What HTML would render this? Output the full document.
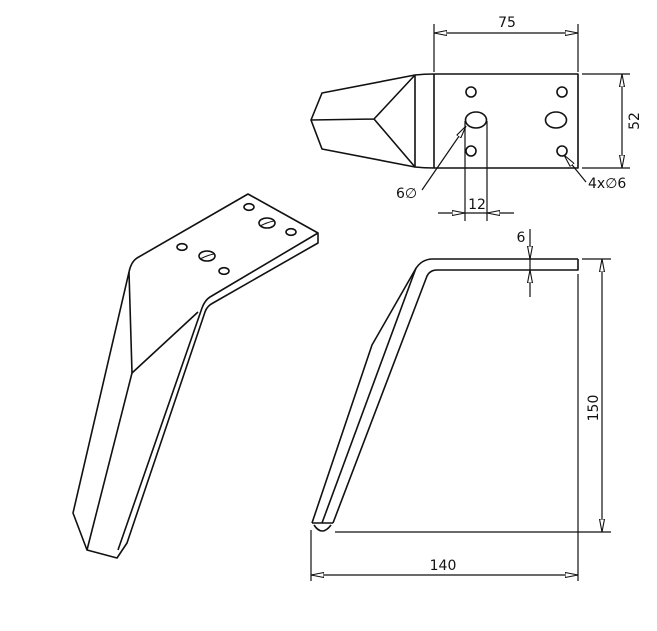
<!DOCTYPE html>
<html><head><meta charset="utf-8"><style>
html,body{margin:0;padding:0;background:#fff;}
svg{display:block;}
text{font-family:"DejaVu Sans","Liberation Sans",sans-serif;font-size:14px;fill:#111;}
</style></head><body>
<svg width="657" height="631" viewBox="0 0 657 631" xmlns="http://www.w3.org/2000/svg">
<defs>
<marker id="ar" viewBox="0 0 13 6" refX="13" refY="3" markerWidth="13" markerHeight="6" orient="auto-start-reverse" markerUnits="userSpaceOnUse">
<path d="M0,0.5 L13,3 L0,5.5 Z" fill="#fff" stroke="#111" stroke-width="1.1"/>
</marker>
</defs>
<g fill="none" stroke="#111" stroke-width="1.6" stroke-linejoin="round">
<!-- ISO VIEW -->
<path d="M248,194 L318,233 L318,243 L213,303 Q207,306 205,312 L127,543 L117,558 L87,550 L73,513 L129,272 Q131,262 137,258 Z"/>
<path d="M318,233 L210,297 Q205,300 202,308 L118,550"/>
<path d="M129,272 L132,373 L198,312"/>
<path d="M132,373 L87,550"/>
<ellipse cx="249" cy="207" rx="5" ry="3.3"/>
<ellipse cx="267" cy="223" rx="8" ry="5"/>
<path d="M260,226 Q268,222 274,221" stroke-width="1"/>
<ellipse cx="291" cy="232" rx="5" ry="3.3"/>
<ellipse cx="182" cy="247" rx="5" ry="3.3"/>
<ellipse cx="207" cy="256" rx="8" ry="5"/>
<path d="M200,259 Q208,255 214,254" stroke-width="1"/>
<ellipse cx="224" cy="271" rx="5" ry="3.3"/>

<!-- TOP VIEW -->
<path d="M415,75 Q424,74 434,74 L578,74 L578,168 L434,168 Q424,168 415,167 Z"/>
<line x1="434" y1="74" x2="434" y2="168"/>
<path d="M415,75 L322,93 L311,120 L322,149 L415,167"/>
<path d="M311,120 L374,119 L415,75 M374,119 L415,167"/>
<circle cx="471" cy="92" r="5"/>
<circle cx="471" cy="151" r="5"/>
<circle cx="562" cy="92" r="5"/>
<circle cx="562" cy="151" r="5"/>
<ellipse cx="476" cy="120" rx="10.5" ry="8"/>
<ellipse cx="556" cy="120" rx="10.5" ry="8"/>

<!-- SIDE VIEW -->
<path d="M578,259 L433,259 Q421,259 415,270 L372,345 L312,523"/>
<path d="M578,259 L578,270 L437,270 Q430,270 427,276 L333,523"/>
<path d="M416,268 L322,523"/>
<path d="M312,523 L333,523 M314,525 Q322,537 331,525"/>
</g>

<!-- dimensions -->
<g fill="none" stroke="#111" stroke-width="1.2">
<line x1="434" y1="24" x2="434" y2="72"/>
<line x1="578" y1="24" x2="578" y2="72"/>
<line x1="434" y1="33" x2="578" y2="33" marker-start="url(#ar)" marker-end="url(#ar)"/>
<line x1="582" y1="74" x2="630" y2="74"/>
<line x1="582" y1="168" x2="630" y2="168"/>
<line x1="622" y1="74" x2="622" y2="168" marker-start="url(#ar)" marker-end="url(#ar)"/>
<line x1="465" y1="121" x2="465" y2="221"/>
<line x1="487" y1="121" x2="487" y2="221"/>
<line x1="438" y1="213" x2="465" y2="213" marker-end="url(#ar)"/>
<line x1="514" y1="213" x2="487" y2="213" marker-end="url(#ar)"/>
<line x1="465" y1="213" x2="487" y2="213"/>
<line x1="422" y1="190" x2="466" y2="126" marker-end="url(#ar)"/>
<line x1="586" y1="182" x2="564" y2="155" marker-end="url(#ar)"/>

<line x1="530" y1="229" x2="530" y2="297"/>
<line x1="530" y1="245" x2="530" y2="259" marker-end="url(#ar)"/>
<line x1="530" y1="284" x2="530" y2="270" marker-end="url(#ar)"/>
<line x1="582" y1="259" x2="611" y2="259"/>
<line x1="335" y1="532" x2="611" y2="532"/>
<line x1="602" y1="259" x2="602" y2="532" marker-start="url(#ar)" marker-end="url(#ar)"/>
<line x1="311" y1="530" x2="311" y2="581"/>
<line x1="578" y1="274" x2="578" y2="581"/>
<line x1="311" y1="575" x2="578" y2="575" marker-start="url(#ar)" marker-end="url(#ar)"/>
</g>

<text x="507" y="27" text-anchor="middle">75</text>
<text x="639" y="121" text-anchor="middle" transform="rotate(-90 639 121)">52</text>
<text x="477" y="209" text-anchor="middle">12</text>
<text x="396" y="198">6∅</text>
<text x="588" y="188">4x∅6</text>
<text x="521" y="242" text-anchor="middle">6</text>
<text x="598" y="408" text-anchor="middle" transform="rotate(-90 598 408)">150</text>
<text x="443" y="570" text-anchor="middle">140</text>
</svg>
</body></html>
